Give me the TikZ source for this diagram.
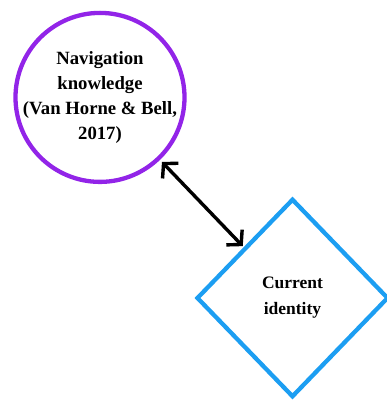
\documentclass[tikz,border=0pt]{standalone}
\usepackage{fontspec}
\setmainfont{Liberation Serif}
\usetikzlibrary{shapes.geometric,arrows.meta}

\definecolor{ringpurple}{RGB}{146,36,232}
\definecolor{edgeblue}{RGB}{28,158,242}

\tikzset{
  topic/.style={circle, draw=ringpurple, line width=4.3pt, inner sep=-12pt, outer sep=0pt,
    minimum size=169pt, align=center,
    font=\fontsize{18.7}{25.2}\selectfont\bfseries},
  focus/.style={diamond, draw=edgeblue, line width=4.3pt, inner sep=0pt, outer sep=0pt,
    minimum width=190pt, minimum height=196.6pt, align=center,
    font=\fontsize{17.5}{26}\selectfont\bfseries},
  barb/.tip={Straight Barb[length=10pt, width=22pt, line width=3.4pt]},
  link/.style={line width=3.4pt, black, barb-barb},
}

\begin{document}
\begin{tikzpicture}[x=1pt, y=-1pt]
  \useasboundingbox (0,0) rectangle (386,401);

  % knowledge circle and identity diamond
  \node[topic] (nav) at (100,97.4) {Navigation\\knowledge\\(Van Horne \& Bell,\\2017)};
  \node[focus] (cur) at (292.5,298) {Current\\identity};

  % two-way relation between them
  \draw[link, shorten <=5pt, shorten >=3.5pt] (nav) -- (cur);
\end{tikzpicture}
\end{document}
